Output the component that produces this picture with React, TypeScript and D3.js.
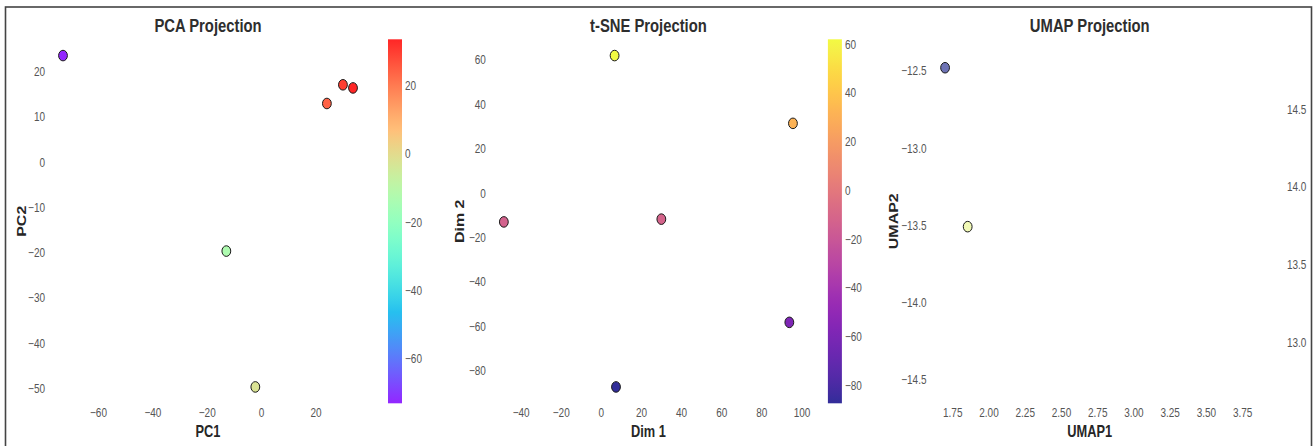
import React from "react";
import * as d3 from "d3";

// ---------- data ----------
const pcaX = [-73.05, 29.9, 33.6, 24.0, -12.98, -2.32];
const pcaY = [23.55, 17.09, 16.4, 12.96, -19.65, -49.67];
const tsneX = [6.6, 95.5, -48.6, 29.9, 93.7, 7.3];
const tsneY = [62.0, 31.46, -12.95, -11.7, -58.2, -87.3];
const umapX = [1.697, 1.853];
const umapY = [-12.479, -13.508];
const umapC = [14.9, 13.92];

const pcaXTicks = [-60, -40, -20, 0, 20];
const pcaYTicks = [-50, -40, -30, -20, -10, 0, 10, 20];
const pcaCbTicks = [-60, -40, -20, 0, 20];
const tsneXTicks = [-40, -20, 0, 20, 40, 60, 80, 100];
const tsneYTicks = [-80, -60, -40, -20, 0, 20, 40, 60];
const tsneCbTicks = [-80, -60, -40, -20, 0, 20, 40, 60];
const umapXTicks = [1.75, 2.0, 2.25, 2.5, 2.75, 3.0, 3.25, 3.5, 3.75];
const umapYTicks = [-14.5, -14.0, -13.5, -13.0, -12.5];
const umapCbTicks = [13.0, 13.5, 14.0, 14.5];
const umapXDomain = [1.593, 3.797];
const umapYDomain = [-14.653, -12.293];
const umapCDomain = [12.61, 14.95];

// ---------- layout ----------
const W = 1314, H = 446;
const TOP = 39, BOTTOM = 403.5;
const SX = 0.8; // horizontal squeeze of the reference image
const FONT = "'Liberation Sans', Arial, Helvetica, sans-serif";
const ALPHA = 0.85;

function rainbow(t: number) {
  const c = (v: number) => Math.max(0, Math.min(1, v));
  const r = c(Math.abs(2 * t - 0.5));
  const g = c(Math.sin(Math.PI * t));
  const b = c(Math.cos((Math.PI * t) / 2));
  return d3.rgb(r * 255, g * 255, b * 255).formatHex();
}

function Txt(props: any) {
  const { x, y, children, anchor = "middle", size = 12.5, weight = 400, fill = "#555", rot = false, dy } = props;
  return (
    <text
      transform={`translate(${x},${y}) scale(${SX},1)${rot ? " rotate(-90)" : ""}`}
      textAnchor={anchor}
      fontSize={size}
      fontWeight={weight}
      fill={fill}
      dy={dy}
      fontFamily={FONT}
    >
      {children}
    </text>
  );
}

function padExtent(v: number[]) {
  const [a, b] = d3.extent(v) as [number, number];
  const p = (b - a) * 0.05;
  return [a - p, b + p];
}

function Panel(props: any) {
  const { id, title, xLabel, yLabel, xs, ys, cs, left, right, xDomain, yDomain, xTicks, yTicks, xFmt, yFmt,
    cmap, cDomain, cbTicks, cbFmt, showBar } = props;
  const x = d3.scaleLinear().domain(xDomain).range([left, right]);
  const y = d3.scaleLinear().domain(yDomain).range([BOTTOM, TOP]);
  const cbL = right + 20.5, cbW = 14;
  const cbTop = 39.3, cbBot = 403.3;
  const cy = d3.scaleLinear().domain(cDomain).range([cbBot, cbTop]);
  const cnorm = d3.scaleLinear().domain(cDomain).range([0, 1]).clamp(true);
  const cx = (left + right) / 2;
  const stops = d3.range(0, 41).map((i) => i / 40);
  return (
    <g>
      <defs>
        <linearGradient id={`grad-${id}`} x1="0" y1="1" x2="0" y2="0">
          {stops.map((t) => (
            <stop key={t} offset={t} stopColor={cmap(t)} />
          ))}
        </linearGradient>
      </defs>
      <Txt x={cx} y={31.5} size={18.5} weight={700} fill="#2e2e2e">{title}</Txt>
      {yTicks.map((t: number) => (
        <Txt key={t} x={left - 3.5} y={y(t)} anchor="end" dy="0.35em">{yFmt(t)}</Txt>
      ))}
      {xTicks.map((t: number) => (
        <Txt key={t} x={x(t)} y={413} dy="0.35em">{xFmt(t)}</Txt>
      ))}
      <Txt x={cx} y={436.5} size={16} weight={700} fill="#262626">{xLabel}</Txt>
      <Txt x={props.yLabelX} y={(TOP + BOTTOM) / 2} size={16} weight={700} fill="#262626" rot>{yLabel}</Txt>
      {xs.map((v: number, i: number) => (
        <ellipse
          key={i}
          cx={x(v)}
          cy={y(ys[i])}
          rx={4.4}
          ry={5.3}
          fill={cmap(cnorm(cs[i]))}
          fillOpacity={ALPHA}
          stroke="#1a1a1a"
          strokeWidth={1}
        />
      ))}
      {showBar && (
        <rect x={cbL} y={cbTop} width={cbW} height={cbBot - cbTop} fill={`url(#grad-${id})`} opacity={ALPHA} />
      )}
      {cbTicks.map((t: number) => (
        <Txt key={t} x={cbL + cbW + 3} y={cy(t)} anchor="start" dy="0.35em">{cbFmt(t)}</Txt>
      ))}
    </g>
  );
}

export default function App() {
  const fInt = d3.format("d");
  return (
    <svg width={W} height={H} style={{ position: "absolute", left: 0, top: 0, background: "#fff" }}>
      <rect x={0} y={0} width={W} height={H} fill="#fff" />
      <rect x={5.5} y={7} width={1306} height={480} fill="none" stroke="#444" strokeWidth={1.6} />
      <Panel
        id="pca" title="PCA Projection" xLabel="PC1" yLabel="PC2" yLabelX={25.5}
        xs={pcaX} ys={pcaY} cs={pcaX}
        left={48.5} right={367.5}
        xDomain={padExtent(pcaX)} yDomain={padExtent(pcaY)}
        xTicks={pcaXTicks} yTicks={pcaYTicks} xFmt={fInt} yFmt={fInt}
        cmap={rainbow} cDomain={d3.extent(pcaX)} cbTicks={pcaCbTicks} cbFmt={fInt} showBar
      />
      <Panel
        id="tsne" title="t-SNE Projection" xLabel="Dim 1" yLabel="Dim 2" yLabelX={464}
        xs={tsneX} ys={tsneY} cs={tsneY}
        left={489.4} right={807.4}
        xDomain={padExtent(tsneX)} yDomain={padExtent(tsneY)}
        xTicks={tsneXTicks} yTicks={tsneYTicks} xFmt={fInt} yFmt={fInt}
        cmap={d3.interpolatePlasma} cDomain={d3.extent(tsneY)} cbTicks={tsneCbTicks} cbFmt={fInt} showBar
      />
      <Panel
        id="umap" title="UMAP Projection" xLabel="UMAP1" yLabel="UMAP2" yLabelX={898}
        xs={umapX} ys={umapY} cs={umapC}
        left={930} right={1249.5}
        xDomain={umapXDomain} yDomain={umapYDomain}
        xTicks={umapXTicks} yTicks={umapYTicks} xFmt={d3.format(".2f")} yFmt={d3.format(".1f")}
        cmap={d3.interpolateSpectral} cDomain={umapCDomain} cbTicks={umapCbTicks} cbFmt={d3.format(".1f")}
        showBar={false}
      />
    </svg>
  );
}
